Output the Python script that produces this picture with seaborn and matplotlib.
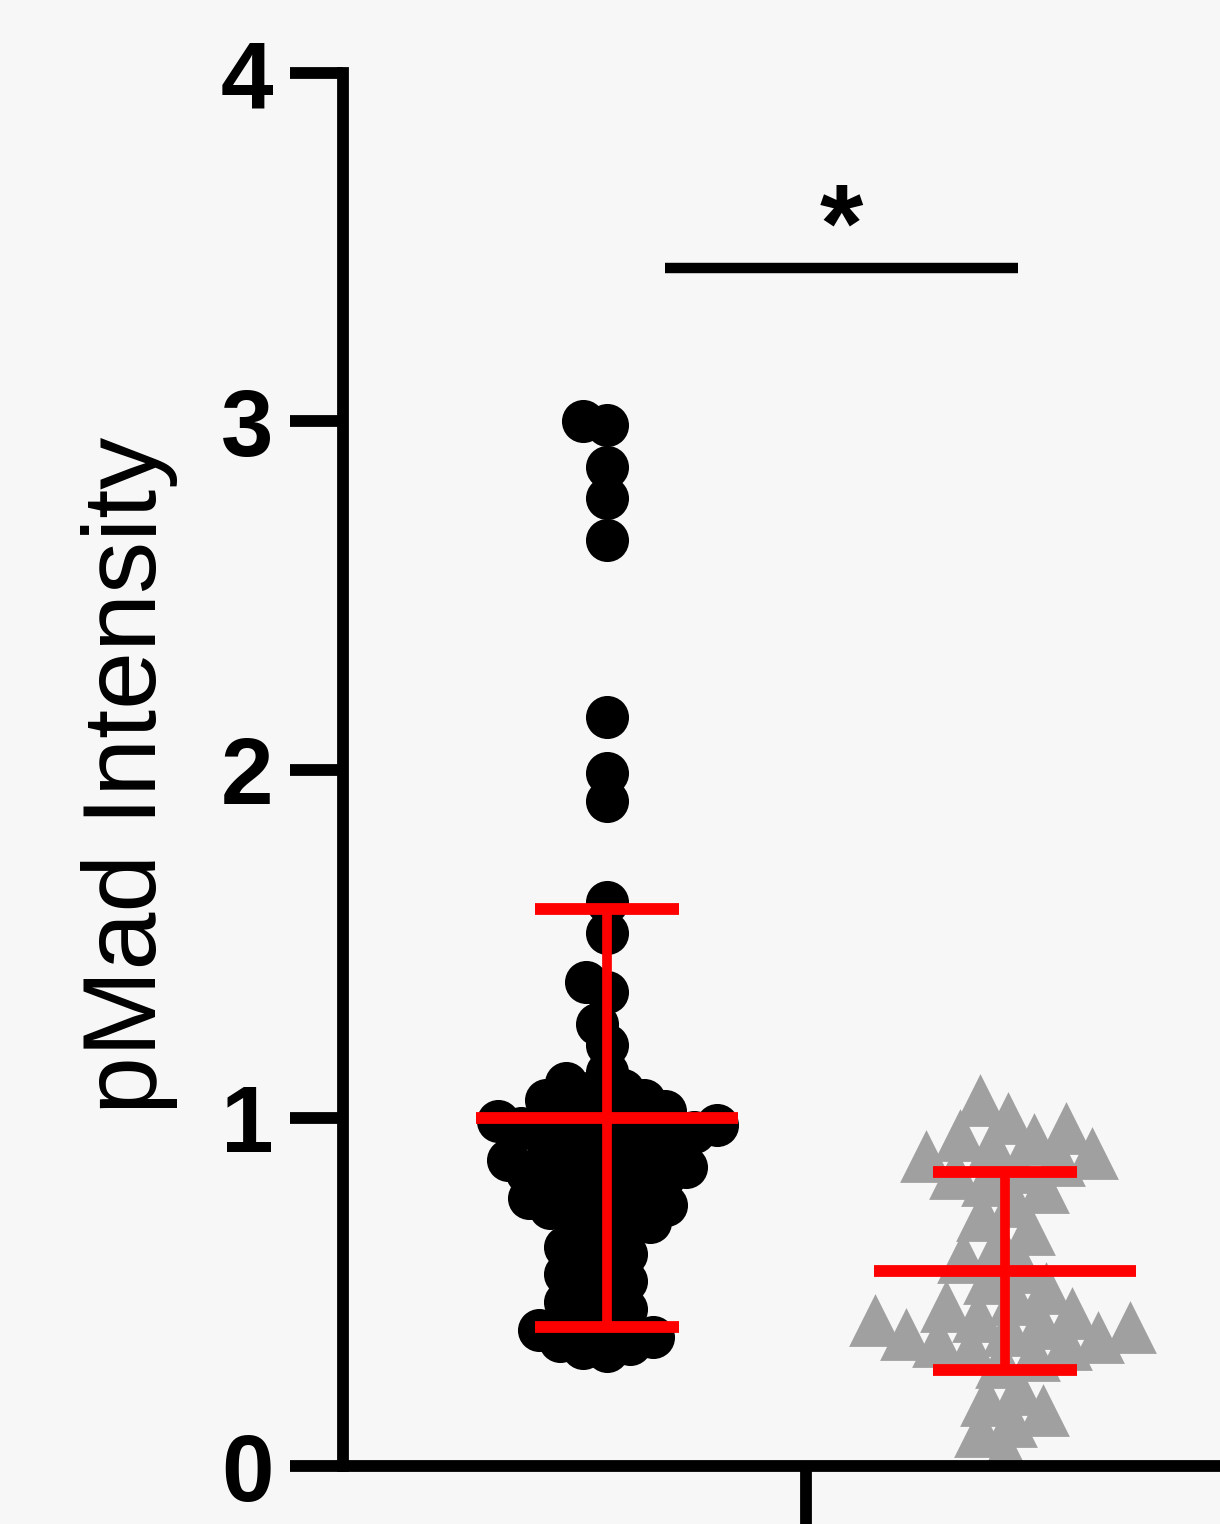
import numpy as np
import pandas as pd
import matplotlib
matplotlib.use("Agg")
import matplotlib.pyplot as plt
import seaborn as sns

# ---- data -------------------------------------------------------------
groups = ["Control", "Mutant"]

control_values = [
    3.00, 2.99, 2.87, 2.78, 2.66, 2.15, 1.99, 1.91,
    1.62, 1.53, 1.39, 1.36, 1.27, 1.21, 1.13, 1.10,
    1.07, 1.05, 1.03, 1.02, 1.00, 0.99, 0.97, 0.96,
    0.95, 0.94, 0.93, 0.92, 0.90, 0.88, 0.86, 0.84,
    0.81, 0.78, 0.76, 0.74, 0.72, 0.70, 0.69, 0.67,
    0.65, 0.63, 0.61, 0.59, 0.57, 0.55, 0.53, 0.51,
    0.49, 0.47, 0.45, 0.43, 0.41, 0.39, 0.37, 0.36,
    0.35, 0.34, 0.33,
    1.08, 1.05, 1.01, 0.99, 0.98, 0.97, 0.96, 0.94,
    0.89, 0.88, 0.87, 0.86, 0.85, 0.83, 0.82, 0.80,
    0.79, 0.77, 0.75, 0.73,
]

mutant_values = [
    1.05, 1.00, 0.97, 0.95, 0.94, 0.92, 0.90, 0.89, 0.88, 0.86,
    0.84, 0.82, 0.80,
    0.76, 0.72, 0.68, 0.64, 0.60, 0.57, 0.54, 0.51,
    0.48, 0.46, 0.44, 0.43, 0.42, 0.41, 0.40, 0.39, 0.38, 0.37,
    0.36, 0.35, 0.34, 0.32, 0.30,
    0.22, 0.19, 0.16, 0.13, 0.10, 0.04,
]

y_ticks = [0, 1, 2, 3, 4]
y_label = "pMad Intensity"
sig_label = "*"
sig_span = (0.146, 1.033)
sig_height = 3.44

# ---- style ------------------------------------------------------------
BG = "#f7f7f7"
GRAY = "#a0a0a0"
RED = "#ff0000"
AXIS_LW = 8.5
CIRCLE_PT = 31
TRIANGLE_PT = 38

sns.set_theme(style="ticks")
plt.rcParams["font.family"] = ["Liberation Sans", "DejaVu Sans"]

df = pd.DataFrame({
    "group": [groups[0]] * len(control_values) + [groups[1]] * len(mutant_values),
    "value": control_values + mutant_values,
})

W, H = 1220, 1524
fig = plt.figure(figsize=(W / 100, H / 100), dpi=100, facecolor=BG)
ax_left, ax_bottom, ax_top = 343, 58, 1451
ax_w_px = 940
ax = fig.add_axes([ax_left / W, ax_bottom / H, ax_w_px / W, (ax_top - ax_bottom) / H])
ax.set_facecolor(BG)

px_per_unit = 398.0
x0 = (343 - 607) / px_per_unit
xlim = (x0, x0 + ax_w_px / px_per_unit)

# swarm layout with compact markers, then enlarge so points overlap
sns.swarmplot(data=df[df["group"] == groups[0]], x="group", y="value", order=groups,
              color="black", marker="o", size=16.5, linewidth=0, ax=ax, zorder=2)
sns.swarmplot(data=df[df["group"] == groups[1]], x="group", y="value", order=groups,
              color=GRAY, marker="^", size=23, linewidth=0, ax=ax, zorder=2)
ax.set_xlim(*xlim)
ax.set_ylim(0, 4)
fig.canvas.draw()
for coll in ax.collections:
    n = len(coll.get_offsets())
    if n == 0:
        continue
    if "draw" in coll.__dict__:
        del coll.draw
    if n == len(control_values):
        coll.set_sizes([CIRCLE_PT ** 2])
    elif n == len(mutant_values):
        coll.set_sizes([TRIANGLE_PT ** 2])

# mean +/- SD
for i, vals in enumerate([control_values, mutant_values]):
    v = np.asarray(vals)
    m, sd = v.mean(), v.std(ddof=1)
    ax.vlines(i, m - sd, m + sd, color=RED, lw=7, zorder=4)
    ax.hlines([m - sd, m + sd], i - 0.18, i + 0.18, color=RED, lw=8.5, zorder=4)
    ax.hlines(m, i - 0.33, i + 0.33, color=RED, lw=8.5, zorder=4)

# significance bar
ax.plot(list(sig_span), [sig_height, sig_height], color="black", lw=7.5,
        solid_capstyle="butt", zorder=3)
ax.text(np.mean(sig_span), sig_height + 0.02, sig_label, ha="center", va="baseline",
        fontsize=80, fontweight="bold", color="black")

# axes styling
for side in ["top", "right"]:
    ax.spines[side].set_visible(False)
for side in ["left", "bottom"]:
    ax.spines[side].set_linewidth(AXIS_LW)
    ax.spines[side].set_color("black")
    ax.spines[side].set_capstyle("projecting")

ax.set_yticks(y_ticks)
ax.set_yticklabels([str(t) for t in y_ticks])
ax.tick_params(axis="y", length=38, width=AXIS_LW, labelsize=68, pad=12,
               direction="out", colors="black")
for lbl in ax.get_yticklabels():
    lbl.set_fontweight("bold")

ax.set_xticks([0.5])
ax.set_xticklabels([""])
ax.tick_params(axis="x", length=70, width=AXIS_LW, direction="out", colors="black")
ax.set_xlabel("")

ax.set_ylabel(y_label, fontsize=75, color="black")
ax.yaxis.label.set_va("center")
ax.yaxis.set_label_coords((130 - ax_left) / ax_w_px,
                          0.5 + (((H - 775) - (ax_bottom + ax_top) / 2) / (ax_top - ax_bottom)))

fig.savefig("out.png", dpi=100, facecolor=BG)
